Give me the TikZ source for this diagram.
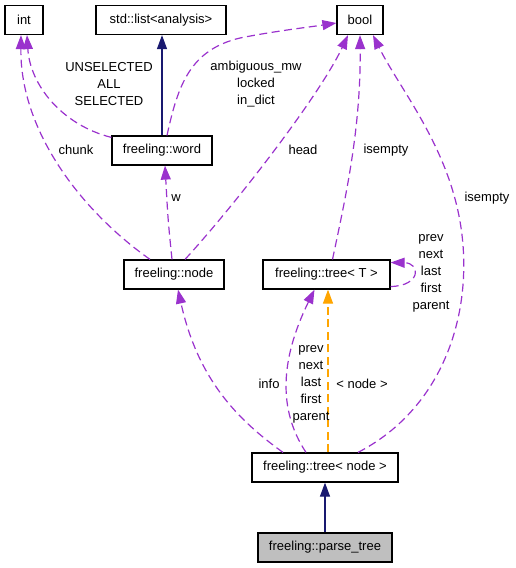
\documentclass[tikz,border=0pt]{standalone}
\usepackage{fontspec}
\setmainfont{Liberation Sans}
\usetikzlibrary{arrows.meta}
\definecolor{usescol}{HTML}{9A32CD}
\definecolor{inheritcol}{HTML}{191970}
\definecolor{tmplcol}{HTML}{FFA500}
\definecolor{focusfill}{HTML}{BFBFBF}
\begin{document}
\begin{tikzpicture}[x=1pt,y=-1pt,
  font=\fontsize{13}{17}\selectfont,
  cls/.style={draw=black, line width=1.2pt, minimum height=29pt, inner sep=0pt, fill=white},
  lbl/.style={align=center, inner sep=0pt},
  usesedge/.style={draw=usescol, line width=1.2pt, dash pattern=on 8pt off 4.5pt,
    -{Triangle[length=14pt,width=10pt,fill=usescol]}},
  tmpledge/.style={draw=tmplcol, line width=1.2pt, dash pattern=on 8pt off 4.5pt,
    -{Triangle[length=14pt,width=10pt,fill=tmplcol]}},
  inhedge/.style={draw=inheritcol, line width=1.2pt,
    -{Triangle[length=14pt,width=10pt,fill=inheritcol]}}]
\useasboundingbox (0,0) rectangle (516,568);

% classes
\node[cls, minimum width=38pt]  (int)      at (24,20)     {int};
\node[cls, minimum width=130pt] (list)     at (161,20)    {std::list<analysis>};
\node[cls, minimum width=46pt]  (bool)     at (360,20)    {bool};
\node[cls, minimum width=100pt] (word)     at (162,150.5) {freeling::word};
\node[cls, minimum width=100pt] (fnode)    at (174,274.5) {freeling::node};
\node[cls, minimum width=127pt] (treeT)    at (326.5,274.5) {freeling::tree< T >};
\node[cls, minimum width=146pt] (treenode) at (325,467.5) {freeling::tree< node >};
\node[cls, minimum width=134pt, fill=focusfill] (parse) at (325,547.5) {freeling::parse\_tree};

% word members
\draw[usesedge] ([yshift=-2pt]word.north west) .. controls (62,125) and (30,85) .. ([xshift=3pt]int.south);
\draw[inhedge] (word.north) -- (word.north |- list.south);
\draw[usesedge] ([xshift=5pt]word.north) .. controls (178,85) and (190,50) .. (240,38)
  .. controls (275,31) and (310,27) .. ([yshift=-3pt]bool.west);

% node members
\draw[usesedge] ([xshift=-24pt]fnode.north) .. controls (80,210) and (20,130) .. ([xshift=-3pt]int.south);
\draw[usesedge] ([xshift=11pt]fnode.north) .. controls (235,205) and (320,95) .. ([xshift=-12pt]bool.south);
\draw[usesedge] ([xshift=-2pt]fnode.north) .. controls (168,220) .. ([xshift=3pt]word.south);

% tree<T> members
\draw[usesedge] ([xshift=6pt]treeT.north) .. controls (345,200) and (361,130) .. (bool.south);
\draw[usesedge] ([yshift=-12pt]treeT.east) .. controls (421,286) and (421,263) .. ([yshift=12pt]treeT.east);

% tree<node> members
\draw[usesedge] ([xshift=33pt]treenode.north) .. controls (440,410) and (472,320) .. (462,235)
  .. controls (452,150) and (400,90) .. ([xshift=13pt]bool.south);
\draw[usesedge] ([xshift=-42pt]treenode.north) .. controls (238,420) and (198,380) .. ([xshift=4pt]fnode.south);
\draw[usesedge] ([xshift=-19pt]treenode.north) .. controls (278,410) and (280,360) .. ([xshift=-12pt]treeT.south);
\draw[tmpledge] ([xshift=3pt]treenode.north) -- ([xshift=1.5pt]treeT.south);

% inheritance
\draw[inhedge] (parse.north) -- (treenode.south);

% labels
\node[lbl] (lsel)   at (109,84)  {UNSELECTED\\ALL\\SELECTED};
\node[lbl] (lamb)   at (256,84)  {ambiguous\_mw\\locked\\in\_dict};
\node[lbl] (lchunk) at (76,150)  {chunk};
\node[lbl] (lhead)  at (303,150) {head};
\node[lbl] (lis1)   at (386,150) {isempty};
\node[lbl] (lis2)   at (487,198) {isempty};
\node[lbl] (lw)     at (176,198) {w};
\node[lbl] (lself)  at (431,273) {prev\\next\\last\\first\\parent};
\node[lbl] (lrel)   at (311,384) {prev\\next\\last\\first\\parent};
\node[lbl] (linfo)  at (269,384) {info};
\node[lbl] (ltmpl)  at (362,384) {< node >};
\end{tikzpicture}
\end{document}
